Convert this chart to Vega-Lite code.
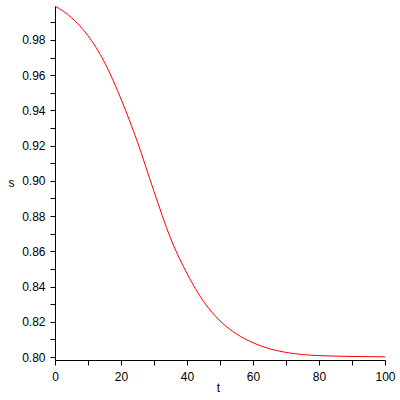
{
  "$schema": "https://vega.github.io/schema/vega-lite/v6.json",
  "width": 330,
  "height": 354,
  "autosize": "none",
  "padding": {"left": 55, "top": 6, "right": 15, "bottom": 40},
  "background": "white",
  "config": {"view": {"stroke": null}},
  "data": {"values": [
    {"t": 0, "s": 0.9993},
    {"t": 5, "s": 0.9927},
    {"t": 10, "s": 0.9824},
    {"t": 15, "s": 0.9674},
    {"t": 20, "s": 0.9465},
    {"t": 25, "s": 0.9220},
    {"t": 30, "s": 0.8940},
    {"t": 35, "s": 0.8675},
    {"t": 40, "s": 0.8474},
    {"t": 45, "s": 0.8316},
    {"t": 50, "s": 0.8205},
    {"t": 55, "s": 0.8131},
    {"t": 60, "s": 0.8081},
    {"t": 65, "s": 0.8047},
    {"t": 70, "s": 0.8026},
    {"t": 75, "s": 0.8014},
    {"t": 80, "s": 0.8008},
    {"t": 85, "s": 0.8005},
    {"t": 90, "s": 0.8003},
    {"t": 95, "s": 0.8002},
    {"t": 100, "s": 0.8001}
  ]},
  "mark": {"type": "line", "color": "#ff0000", "strokeWidth": 1, "interpolate": "monotone", "clip": true},
  "encoding": {
    "x": {
      "field": "t", "type": "quantitative",
      "scale": {"domain": [0, 100], "nice": false, "zero": false},
      "axis": {
        "title": "t",
        "values": [0, 10, 20, 30, 40, 50, 60, 70, 80, 90, 100],
        "labelExpr": "datum.value % 20 == 0 ? datum.label : ''",
        "labelFlush": false,
        "grid": false,
        "domainColor": "black", "tickColor": "black",
        "tickSize": 5, "labelPadding": 6,
        "labelFont": "Liberation Sans", "labelFontSize": 12, "labelColor": "black",
        "titleFont": "Liberation Sans", "titleFontSize": 12, "titleFontWeight": "normal", "titleColor": "black",
        "titleX": 163, "titleY": 22, "titleAlign": "center", "titleBaseline": "top"
      }
    },
    "y": {
      "field": "s", "type": "quantitative",
      "scale": {"domain": [0.7983, 0.9993], "nice": false, "zero": false},
      "axis": {
        "title": "s",
        "values": [0.80, 0.81, 0.82, 0.83, 0.84, 0.85, 0.86, 0.87, 0.88, 0.89, 0.90, 0.91, 0.92, 0.93, 0.94, 0.95, 0.96, 0.97, 0.98, 0.99],
        "format": ".2f",
        "labelExpr": "round(datum.value * 100) % 2 == 0 ? datum.label : ''",
        "labelFlush": false,
        "grid": false,
        "domainColor": "black", "tickColor": "black",
        "tickSize": 5, "labelPadding": 5,
        "labelFont": "Liberation Sans", "labelFontSize": 12, "labelColor": "black",
        "titleFont": "Liberation Sans", "titleFontSize": 12, "titleFontWeight": "normal", "titleColor": "black",
        "titleAngle": 0, "titleX": -44, "titleY": 176, "titleAlign": "center", "titleBaseline": "middle"
      }
    }
  }
}
